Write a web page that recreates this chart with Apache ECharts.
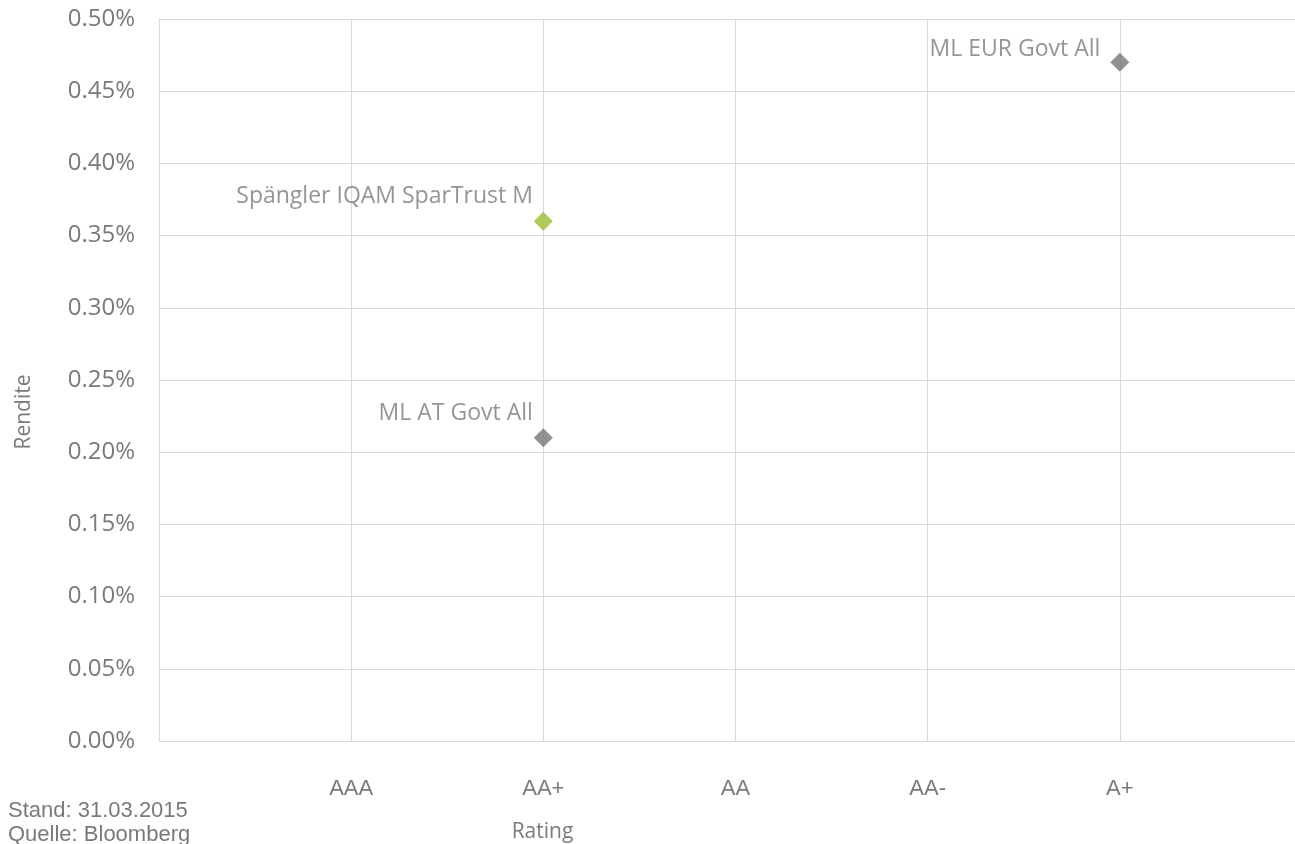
<!DOCTYPE html>
<html><head><meta charset="utf-8">
<script src="https://cdn.jsdelivr.net/npm/echarts@6/dist/echarts.min.js"></script>
<style>html,body{margin:0;padding:0;background:#fff}#c{width:1295px;height:844px}</style>
</head><body><div id="c"></div>
<script>
const categories = ['AAA', 'AA+', 'AA', 'AA-', 'A+'];
const seriesNames = ['Spängler IQAM SparTrust M', 'ML AT Govt All', 'ML EUR Govt All'];
const seriesRatings = ['AA+', 'AA+', 'A+'];
const seriesYields = [0.36, 0.21, 0.47];
const yTicks = ['0.00%','0.05%','0.10%','0.15%','0.20%','0.25%','0.30%','0.35%','0.40%','0.45%','0.50%'];
const footnotes = ['Stand: 31.03.2015', 'Quelle: Bloomberg'];

const colors = ['#9bbb31', '#76777c', '#76777c'];
const labelOffsets = [[7, -25], [7, -24], [-2, -13]];
const txt = '#7a7a7a';

const chart = echarts.init(document.getElementById('c'));
const series = seriesNames.map((n, i) => ({
  type: 'scatter', name: n, symbol: 'diamond', symbolSize: 19,
  itemStyle: { color: colors[i] },
  label: { show: true, formatter: n, position: 'left', distance: 8, offset: labelOffsets[i],
           color: txt, fontFamily: 'Open Sans', fontSize: 23 },
  data: [[categories.indexOf(seriesRatings[i]) + 1, seriesYields[i]]]
}));
chart.setOption({
  animation: false,
  grid: { left: 159, top: 19, width: 1153, height: 722, containLabel: false, outerBoundsMode: 'none' },
  xAxis: {
    type: 'value', min: 0, max: 6, interval: 1,
    name: 'Rating', nameLocation: 'middle', nameGap: 81,
    nameTextStyle: { color: txt, fontFamily: 'Open Sans', fontSize: 21, padding: [0, 386, 0, 0] },
    axisLine: { show: false }, axisTick: { show: false },
    splitLine: { show: true, lineStyle: { color: '#d9d9d9', width: 1 } },
    axisLabel: { color: txt, fontFamily: 'Liberation Sans', fontSize: 22, margin: 37,
      formatter: v => (v >= 1 && v <= categories.length) ? categories[v - 1] : '' }
  },
  yAxis: {
    type: 'value', min: 0, max: 0.5, interval: 0.05,
    name: 'Rendite', nameLocation: 'middle', nameGap: 124, nameRotate: 90,
    nameTextStyle: { color: txt, fontFamily: 'Open Sans', fontSize: 21, padding: [0, 64, 0, 0] },
    axisLine: { show: true, lineStyle: { color: '#d9d9d9' } }, axisTick: { show: false },
    splitLine: { show: true, lineStyle: { color: '#d9d9d9', width: 1 } },
    axisLabel: { color: txt, fontFamily: 'Open Sans', fontSize: 24, margin: 24,
      formatter: v => yTicks[Math.round(v / 0.05)] }
  },
  graphic: footnotes.map((t, i) => ({
    type: 'text', left: 8, top: 800 + i * 24,
    style: { text: t, fill: txt, font: '22px "Liberation Sans"' }
  })),
  series
});
</script></body></html>
